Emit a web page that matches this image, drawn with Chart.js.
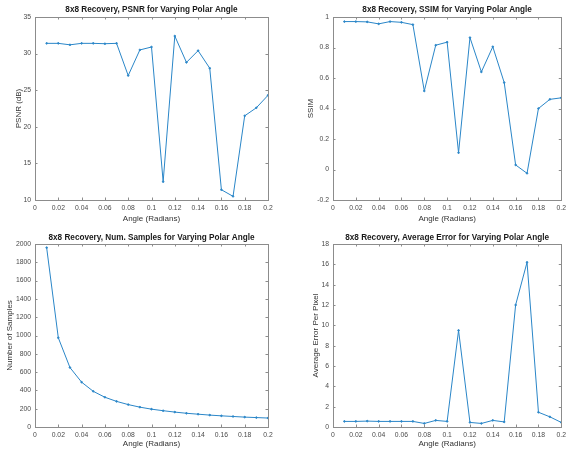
<!DOCTYPE html>
<html>
<head>
<meta charset="utf-8">
<script src="https://cdn.jsdelivr.net/npm/chart.js@4"></script>
<style>
  body { margin: 0; background: #fff; }
  #wrap { position: relative; width: 570px; height: 450px; background: #fff; overflow: hidden; }
  .cell { position: absolute; width: 285px; height: 225px; }
</style>
</head>
<body>
<div id="wrap">
  <div class="cell" style="left:0;top:0"><canvas id="psnr"></canvas></div>
  <div class="cell" style="left:285px;top:0"><canvas id="ssim"></canvas></div>
  <div class="cell" style="left:0;top:225px"><canvas id="samples"></canvas></div>
  <div class="cell" style="left:285px;top:225px"><canvas id="error"></canvas></div>
</div>
<script>
const angles = [0.01, 0.02, 0.03, 0.04, 0.05, 0.06, 0.07, 0.08, 0.09, 0.10,
                0.11, 0.12, 0.13, 0.14, 0.15, 0.16, 0.17, 0.18, 0.19, 0.20];

const psnr = [31.4, 31.4, 31.2, 31.4, 31.4, 31.35, 31.4, 27.0, 30.5, 30.9,
              12.5, 32.4, 28.8, 30.4, 28.0, 11.4, 10.5, 21.5, 22.6, 24.3];

const ssim = [0.97, 0.97, 0.968, 0.955, 0.97, 0.965, 0.95, 0.515, 0.815, 0.835,
              0.11, 0.865, 0.64, 0.805, 0.57, 0.03, -0.025, 0.40, 0.46, 0.47];

const samples = [1960, 975, 650, 490, 390, 325, 280, 245, 217, 195,
                 178, 163, 150, 140, 130, 122, 115, 108, 103, 98];

const avgError = [0.55, 0.55, 0.58, 0.55, 0.55, 0.55, 0.55, 0.35, 0.65, 0.55,
                  9.5, 0.45, 0.35, 0.65, 0.5, 12.0, 16.2, 1.45, 1.0, 0.45];

const lineColor = '#2a86c8';
const axisColor = '#8c8c8c';
const tickColor = '#4a4a4a';
const fontFamily = '"Liberation Sans", Arial, Helvetica, sans-serif';

// MATLAB style: full box and small inward ticks
const boxPlugin = {
    id: 'box',
    afterDraw(chart) {
        const { ctx, chartArea: a, scales } = chart;
        ctx.save();
        ctx.strokeStyle = axisColor;
        ctx.lineWidth = 1;
        ctx.strokeRect(Math.round(a.left) + 0.5, Math.round(a.top) + 0.5,
            Math.round(a.right - a.left), Math.round(a.bottom - a.top));
        const len = 2.5;
        ctx.beginPath();
        scales.x.ticks.forEach(t => {
            const px = Math.round(scales.x.getPixelForValue(t.value)) + 0.5;
            ctx.moveTo(px, a.bottom); ctx.lineTo(px, a.bottom - len);
            ctx.moveTo(px, a.top); ctx.lineTo(px, a.top + len);
        });
        scales.y.ticks.forEach(t => {
            const py = Math.round(scales.y.getPixelForValue(t.value)) + 0.5;
            ctx.moveTo(a.left, py); ctx.lineTo(a.left + len, py);
            ctx.moveTo(a.right, py); ctx.lineTo(a.right - len, py);
        });
        ctx.stroke();
        ctx.restore();
    }
};

function makeChart(id, opts) {
    const points = angles.map((x, i) => ({ x: x, y: opts.values[i] }));
    return new Chart(document.getElementById(id), {
        type: 'line',
        data: {
            datasets: [{
                data: points,
                borderColor: lineColor,
                backgroundColor: lineColor,
                borderWidth: 1,
                pointRadius: 0.8,
                pointHoverRadius: 0.8,
                tension: 0
            }]
        },
        plugins: [boxPlugin],
        options: {
            responsive: true,
            maintainAspectRatio: false,
            animation: false,
            layout: { padding: { left: 0, top: 0, right: opts.rightPad, bottom: 0 } },
            plugins: {
                legend: { display: false },
                tooltip: { enabled: false },
                title: {
                    display: true,
                    text: opts.title,
                    fullSize: false,
                    color: '#1a1a1a',
                    font: { family: fontFamily, size: 8.2, weight: 'bold', lineHeight: 1.2 },
                    padding: { top: opts.titleTop, bottom: opts.titleBottom }
                }
            },
            scales: {
                x: {
                    type: 'linear',
                    min: 0,
                    max: 0.2,
                    grid: { display: false, drawTicks: false },
                    border: { display: false },
                    afterFit: s => { s.height = opts.xHeight; },
                    ticks: {
                        stepSize: 0.02,
                        padding: 4,
                        maxRotation: 0,
                        autoSkip: false,
                        color: tickColor,
                        font: { family: fontFamily, size: 6.8 },
                        callback: v => String(Number(v.toFixed(2)))
                    },
                    title: {
                        display: true,
                        text: 'Angle (Radians)',
                        color: '#333',
                        font: { family: fontFamily, size: 8, lineHeight: 1.2 },
                        padding: { top: 0, bottom: 1.2 }
                    }
                },
                y: {
                    min: opts.yMin,
                    max: opts.yMax,
                    grid: { display: false, drawTicks: false },
                    border: { display: false },
                    afterFit: s => { s.width = opts.yWidth; },
                    ticks: {
                        stepSize: opts.yStep,
                        padding: 4,
                        autoSkip: false,
                        color: tickColor,
                        font: { family: fontFamily, size: 6.8 },
                        callback: v => String(Number(v.toFixed(2)))
                    },
                    title: {
                        display: true,
                        text: opts.yTitle,
                        color: '#333',
                        font: { family: fontFamily, size: 8, lineHeight: 1.2 },
                        padding: { top: opts.yTitlePad, bottom: 0 }
                    }
                }
            }
        }
    });
}

makeChart('psnr', {
    values: psnr, title: '8x8 Recovery, PSNR for Varying Polar Angle',
    yTitle: 'PSNR (dB)', yMin: 10, yMax: 35, yStep: 5,
    yWidth: 35, rightPad: 17, xHeight: 25, titleTop: 5.1, titleBottom: 2.06, yTitlePad: 13.5
});
makeChart('ssim', {
    values: ssim, title: '8x8 Recovery, SSIM for Varying Polar Angle',
    yTitle: 'SSIM', yMin: -0.2, yMax: 1, yStep: 0.2,
    yWidth: 48, rightPad: 6, xHeight: 25, titleTop: 5.1, titleBottom: 2.06, yTitlePad: 20.9
});
makeChart('samples', {
    values: samples, title: '8x8 Recovery, Num. Samples for Varying Polar Angle',
    yTitle: 'Number of Samples', yMin: 0, yMax: 2000, yStep: 200,
    yWidth: 35, rightPad: 17, xHeight: 23, titleTop: 7.4, titleBottom: 1.76, yTitlePad: 5.2
});
makeChart('error', {
    values: avgError, title: '8x8 Recovery, Average Error for Varying Polar Angle',
    yTitle: 'Average Error Per Pixel', yMin: 0, yMax: 18, yStep: 2,
    yWidth: 48, rightPad: 6, xHeight: 23, titleTop: 7.4, titleBottom: 1.76, yTitlePad: 25.7
});
</script>
</body>
</html>
